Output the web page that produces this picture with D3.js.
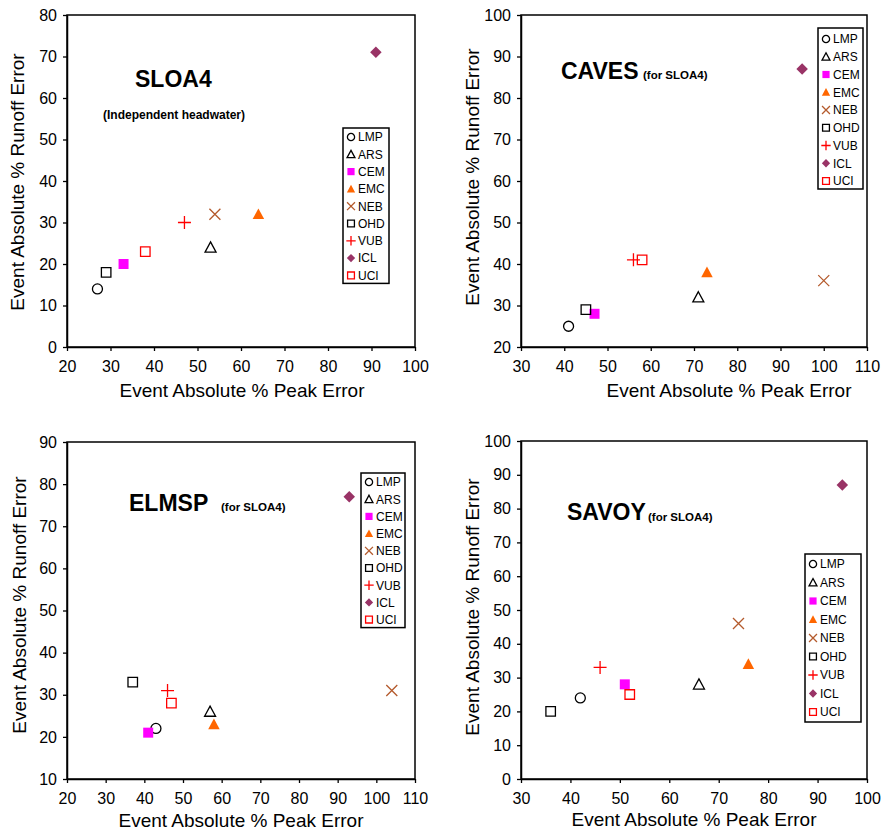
<!DOCTYPE html>
<html>
<head>
<meta charset="utf-8">
<script src="https://cdn.jsdelivr.net/npm/d3@7"></script>
<style>
  html, body { margin: 0; padding: 0; background: #fff; }
  svg { display: block; font-family: "Liberation Sans", Arial, Helvetica, sans-serif; }
</style>
</head>
<body>
<svg id="chart" width="888" height="833"></svg>
<script>
// Models compared in every panel (legend order)
const models = ["LMP", "ARS", "CEM", "EMC", "NEB", "OHD", "VUB", "ICL", "UCI"];

// Event absolute % peak error (x) and % runoff error (y), per basin, in model order
const sloa4Peak   = [27, 53, 33, 64, 54, 29, 47, 91, 38];
const sloa4Runoff = [14, 24, 20, 32, 32, 18, 30, 71, 23];

const cavesPeak   = [41, 71, 47, 73, 100, 45, 56, 95, 58];
const cavesRunoff = [25, 32, 28, 38, 36, 29, 41, 87, 41];

const elmspPeak   = [43, 57, 41, 58, 104, 37, 46, 93, 47];
const elmspRunoff = [22, 26, 21, 23, 31, 33, 31, 77, 28];

const savoyPeak   = [42, 66, 51, 76, 74, 36, 46, 95, 52];
const savoyRunoff = [24, 28, 28, 34, 46, 20, 33, 87, 25];

// Tick values for each panel's axes
const sloa4XTicks = [20, 30, 40, 50, 60, 70, 80, 90, 100];
const sloa4YTicks = [0, 10, 20, 30, 40, 50, 60, 70, 80];
const cavesXTicks = [30, 40, 50, 60, 70, 80, 90, 100, 110];
const cavesYTicks = [20, 30, 40, 50, 60, 70, 80, 90, 100];
const elmspXTicks = [20, 30, 40, 50, 60, 70, 80, 90, 100, 110];
const elmspYTicks = [10, 20, 30, 40, 50, 60, 70, 80, 90];
const savoyXTicks = [30, 40, 50, 60, 70, 80, 90, 100];
const savoyYTicks = [0, 10, 20, 30, 40, 50, 60, 70, 80, 90, 100];

const xTitle = "Event Absolute % Peak Error";
const yTitle = "Event Absolute % Runoff Error";

// Custom marker shapes for d3.symbol
const symPlus = { draw(ctx, size) { const r = Math.sqrt(size) / 2;
  ctx.moveTo(-r, 0); ctx.lineTo(r, 0); ctx.moveTo(0, -r); ctx.lineTo(0, r); } };
const symX = { draw(ctx, size) { const r = Math.sqrt(size) / 2;
  ctx.moveTo(-r, -r); ctx.lineTo(r, r); ctx.moveTo(-r, r); ctx.lineTo(r, -r); } };
const symTri = { draw(ctx, size) { const r = Math.sqrt(size) / 2;
  ctx.moveTo(0, -r); ctx.lineTo(r, r * 0.85); ctx.lineTo(-r, r * 0.85); ctx.closePath(); } };
const symDiamond = { draw(ctx, size) { const r = Math.sqrt(size) / 2;
  ctx.moveTo(0, -r); ctx.lineTo(r, 0); ctx.lineTo(0, r); ctx.lineTo(-r, 0); ctx.closePath(); } };
const symSquare = { draw(ctx, size) { const r = Math.sqrt(size) / 2;
  ctx.rect(-r, -r, 2 * r, 2 * r); } };
const symCircle = { draw(ctx, size) { const r = Math.sqrt(size) / 2;
  ctx.moveTo(r, 0); ctx.arc(0, 0, r, 0, 2 * Math.PI); } };

// Marker appearance per model: shape, scale factor, fill, stroke
const markerStyle = {
  LMP: { type: symCircle,  k: 1.0, fill: "none",    stroke: "#000" },
  ARS: { type: symTri,     k: 1.1, fill: "none",    stroke: "#000" },
  CEM: { type: symSquare,  k: 1.0, fill: "#ff00ff", stroke: "none" },
  EMC: { type: symTri,     k: 1.15, fill: "#ff6600", stroke: "none" },
  NEB: { type: symX,       k: 1.1, fill: "none",    stroke: "#b45a2c" },
  OHD: { type: symSquare,  k: 0.95, fill: "none",    stroke: "#000" },
  VUB: { type: symPlus,    k: 1.3, fill: "none",    stroke: "#ff0000" },
  ICL: { type: symDiamond, k: 1.15, fill: "#993366", stroke: "none" },
  UCI: { type: symSquare,  k: 0.95, fill: "none",    stroke: "#ff0000" }
};

const panels = [
  { title: "SLOA4", sub: "(Independent headwater)", subBelow: true,
    peak: sloa4Peak, runoff: sloa4Runoff, xDom: [20, 100], yDom: [0, 80],
    xTicks: sloa4XTicks, yTicks: sloa4YTicks,
    box: { l: 67, r: 415, t: 15, b: 347 },
    titlePos: [135, 87], subPos: [103, 119],
    xTitlePos: [242, 397], yTitlePos: [24, 182],
    legend: { x: 343, y: 128, w: 46, first: 9, step: 17.3, pad: 8 } },
  { title: "CAVES", sub: "(for SLOA4)",
    peak: cavesPeak, runoff: cavesRunoff, xDom: [30, 110], yDom: [20, 100],
    xTicks: cavesXTicks, yTicks: cavesYTicks,
    box: { l: 521, r: 867, t: 15, b: 347 },
    titlePos: [561, 79], subPos: [643, 79],
    xTitlePos: [729, 397], yTitlePos: [479, 177],
    legend: { x: 818, y: 28, w: 45, first: 11, step: 17.75, pad: 8 } },
  { title: "ELMSP", sub: "(for SLOA4)",
    peak: elmspPeak, runoff: elmspRunoff, xDom: [20, 110], yDom: [10, 90],
    xTicks: elmspXTicks, yTicks: elmspYTicks,
    box: { l: 67, r: 415, t: 442, b: 779 },
    titlePos: [129, 511], subPos: [221, 511],
    xTitlePos: [241, 827], yTitlePos: [26, 605],
    legend: { x: 361, y: 473, w: 44, first: 9, step: 17.2, pad: 8 } },
  { title: "SAVOY", sub: "(for SLOA4)",
    peak: savoyPeak, runoff: savoyRunoff, xDom: [30, 100], yDom: [0, 100],
    xTicks: savoyXTicks, yTicks: savoyYTicks,
    box: { l: 521, r: 867, t: 441, b: 779 },
    titlePos: [567, 520], subPos: [648, 521],
    xTitlePos: [694, 826], yTitlePos: [479, 607],
    legend: { x: 805, y: 554, w: 56, first: 10, step: 18.5, pad: 10 } }
];

const svg = d3.select("#chart");

function drawMarker(sel, name, scale) {
  const st = markerStyle[name];
  const side = 10 * st.k * scale;
  sel.append("path")
    .attr("d", d3.symbol().type(st.type).size(side * side)())
    .attr("fill", st.fill)
    .attr("stroke", st.stroke)
    .attr("stroke-width", 1.3);
}

panels.forEach(p => {
  const g = svg.append("g");
  const x = d3.scaleLinear().domain(p.xDom).range([p.box.l, p.box.r]);
  const y = d3.scaleLinear().domain(p.yDom).range([p.box.b, p.box.t]);

  // Plot frame
  g.append("rect")
    .attr("x", p.box.l).attr("y", p.box.t)
    .attr("width", p.box.r - p.box.l).attr("height", p.box.b - p.box.t)
    .attr("fill", "none").attr("stroke", "#000").attr("stroke-width", 1.5);

  // Axes
  const xAxis = g.append("g").attr("transform", `translate(0,${p.box.b})`)
    .call(d3.axisBottom(x).tickValues(p.xTicks).tickSize(4).tickSizeOuter(0).tickPadding(10));
  const yAxis = g.append("g").attr("transform", `translate(${p.box.l},0)`)
    .call(d3.axisLeft(y).tickValues(p.yTicks).tickSize(4).tickSizeOuter(0).tickPadding(6));
  [xAxis, yAxis].forEach(a => {
    a.select(".domain").attr("stroke", "#000").attr("stroke-width", 1.5);
    a.selectAll(".tick line").attr("stroke", "#000").attr("stroke-width", 1.3);
    a.selectAll(".tick text").attr("fill", "#000")
      .style("font-size", "16px").style("font-family", "'Liberation Sans', Arial, sans-serif");
  });

  // Axis titles
  g.append("text")
    .attr("x", p.xTitlePos[0]).attr("y", p.xTitlePos[1])
    .attr("text-anchor", "middle").style("font-size", "19px").text(xTitle);
  g.append("text")
    .attr("transform", `translate(${p.yTitlePos[0]},${p.yTitlePos[1]}) rotate(-90)`)
    .attr("text-anchor", "middle").style("font-size", "19px").text(yTitle);

  // Panel title and note
  g.append("text")
    .attr("x", p.titlePos[0]).attr("y", p.titlePos[1])
    .style("font-size", "23px").style("font-weight", "bold").text(p.title);
  g.append("text")
    .attr("x", p.subPos[0]).attr("y", p.subPos[1])
    .style("font-size", p.subBelow ? "12px" : "11.5px").style("font-weight", "bold").text(p.sub);

  // Points
  models.forEach((m, i) => {
    const pt = g.append("g")
      .attr("transform", `translate(${x(p.peak[i])},${y(p.runoff[i])})`);
    drawMarker(pt, m, 1);
  });

  // Legend
  const L = p.legend;
  const h = L.first + L.step * (models.length - 1) + L.pad;
  const lg = g.append("g");
  lg.append("rect")
    .attr("x", L.x).attr("y", L.y).attr("width", L.w).attr("height", h)
    .attr("fill", "#fff").attr("stroke", "#000").attr("stroke-width", 1.5);
  models.forEach((m, i) => {
    const cy = L.y + L.first + L.step * i;
    const item = lg.append("g").attr("transform", `translate(${L.x + 8},${cy})`);
    drawMarker(item, m, 0.72);
    lg.append("text")
      .attr("x", L.x + 15).attr("y", cy).attr("dy", "0.36em")
      .style("font-size", "12px").text(m);
  });
});
</script>
</body>
</html>
